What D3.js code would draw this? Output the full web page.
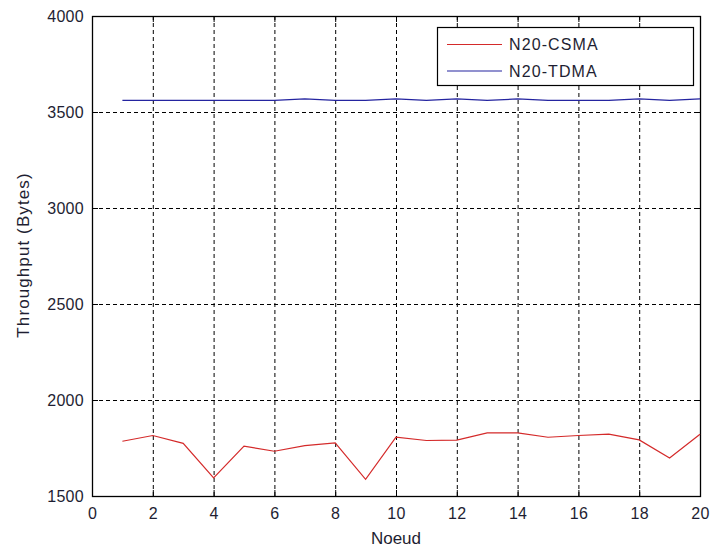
<!DOCTYPE html>
<html>
<head>
<meta charset="utf-8">
<script src="https://cdn.jsdelivr.net/npm/d3@7"></script>
<style>
body { margin: 0; background: #fff; }
text { font-family: "Liberation Sans", Arial, sans-serif; }
</style>
</head>
<body>
<svg id="chart" width="712" height="550"></svg>
<script>
const nodes = [1,2,3,4,5,6,7,8,9,10,11,12,13,14,15,16,17,18,19,20];
const csma = [1785,1815,1774,1594,1760,1733,1762,1777,1587,1807,1789,1791,1829,1829,1806,1815,1822,1792,1698,1822];
const tdma = [3561,3561,3561,3561,3561,3561,3568,3561,3561,3568,3561,3568,3561,3568,3561,3561,3561,3568,3561,3568];
const xTicks = [0,2,4,6,8,10,12,14,16,18,20];
const yTicks = [1500,2000,2500,3000,3500,4000];
const seriesNames = ["N20-CSMA","N20-TDMA"];
const seriesColors = ["#d42a2a","#2424a0"];
const textColor = "#1e1e32";

const svg = d3.select("#chart");
const L = 92, R = 700, T = 16, B = 496;
const x = d3.scaleLinear().domain([0,20]).range([L,R]);
const y = d3.scaleLinear().domain([1500,4000]).range([B,T]);

// grid
const g = svg.append("g");
g.selectAll(".gx").data(xTicks.slice(1,-1)).enter().append("line")
  .attr("x1", d=>x(d)+0.5).attr("x2", d=>x(d)+0.5).attr("y1", T).attr("y2", B)
  .attr("stroke","#000").attr("stroke-dasharray","4,3").attr("stroke-width",1);
g.selectAll(".gy").data(yTicks.slice(1,-1)).enter().append("line")
  .attr("y1", d=>Math.round(y(d))+0.5).attr("y2", d=>Math.round(y(d))+0.5).attr("x1", L).attr("x2", R)
  .attr("stroke","#000").attr("stroke-dasharray","4,3").attr("stroke-width",1);

// axes with inward ticks
const xAxisB = d3.axisBottom(x).tickValues(xTicks).tickSize(-6).tickPadding(12).tickFormat(d3.format("d"));
const xAxisT = d3.axisTop(x).tickValues(xTicks).tickSize(-6).tickFormat("");
const yAxisL = d3.axisLeft(y).tickValues(yTicks).tickSize(-6).tickPadding(8).tickFormat(d3.format("d"));
const yAxisR = d3.axisRight(y).tickValues(yTicks).tickSize(-6).tickFormat("");
function style(sel){
  sel.select(".domain").remove();
  sel.selectAll("line").attr("stroke","#000");
  sel.selectAll("text").attr("fill",textColor).style("font-size","16px").style("letter-spacing","0.3px")
    .style("font-family","'Liberation Sans', Arial, sans-serif");
}
svg.append("g").attr("transform",`translate(0,${B})`).call(xAxisB).call(style);
svg.append("g").attr("transform",`translate(0,${T})`).call(xAxisT).call(style);
svg.append("g").attr("transform",`translate(${L},0)`).call(yAxisL).call(style);
svg.append("g").attr("transform",`translate(${R},0)`).call(yAxisR).call(style);

// box
svg.append("rect").attr("x",L+0.5).attr("y",T+0.5).attr("width",R-L).attr("height",B-T)
  .attr("fill","none").attr("stroke","#000").attr("stroke-width",1.3);

// lines
const line = d3.line().x((d,i)=>x(nodes[i])).y(d=>y(d));
[csma, tdma].forEach((s,k)=>{
  svg.append("path").datum(s).attr("d", line).attr("fill","none")
    .attr("stroke", seriesColors[k]).attr("stroke-width",1.2);
});

// legend
const lg = svg.append("g");
lg.append("rect").attr("x",437.5).attr("y",27.5).attr("width",256).attr("height",58)
  .attr("fill","#fff").attr("stroke","#000").attr("stroke-width",1.2);
seriesNames.forEach((n,k)=>{
  const yy = 44.5 + k*26.5;
  lg.append("line").attr("x1",447).attr("x2",502).attr("y1",yy).attr("y2",yy)
    .attr("stroke",seriesColors[k]).attr("stroke-width",1.2);
  lg.append("text").attr("x",509).attr("y",yy+5.8).text(n)
    .attr("fill",textColor).style("font-size","16px").style("letter-spacing","1.1px");
});

// axis labels
svg.append("text").attr("x",(L+R)/2).attr("y",544).attr("text-anchor","middle")
  .attr("fill",textColor).style("font-size","17px").text("Noeud");
svg.append("text").attr("transform",`translate(29,255) rotate(-90)`).attr("text-anchor","middle")
  .attr("fill",textColor).style("font-size","17px").style("letter-spacing","1.1px").text("Throughput (Bytes)");
</script>
</body>
</html>
